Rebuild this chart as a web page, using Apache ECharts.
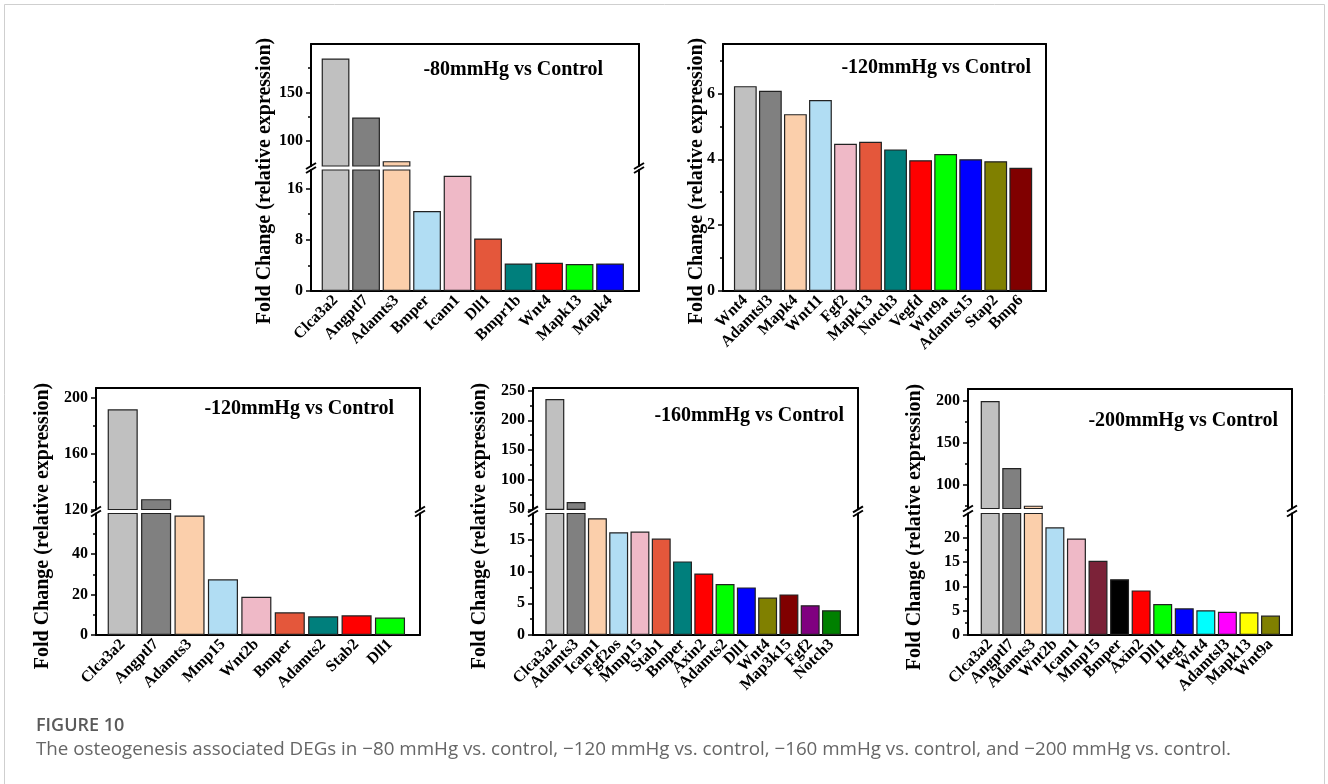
<!DOCTYPE html>
<html><head><meta charset="utf-8">
<script src="https://cdn.jsdelivr.net/npm/echarts@6/dist/echarts.min.js"></script>
<style>html,body{margin:0;padding:0;background:#fff}#c{width:1328px;height:784px}</style>
</head><body><div id="c"></div>
<script>
// ---------- DATA ----------
// -80mmHg vs Control (top left)
const genes80 = ['Clca3a2','Angptl7','Adamts3','Bmper','Icam1','Dll1','Bmpr1b','Wnt4','Mapk13','Mapk4'];
const fold80 = [185, 124, 79, 12.5, 18.0, 8.2, 4.3, 4.4, 4.2, 4.3];
const ticks80Upper = [100, 150];
const minor80Upper = [125, 175];
const ticks80Lower = [0, 8, 16];
const minor80Lower = [4, 12];

// -120mmHg vs Control (top right)
const genes120a = ['Wnt4','Adamtsl3','Mapk4','Wnt11','Fgf2','Mapk13','Notch3','Vegfd','Wnt9a','Adamts15','Stap2','Bmp6'];
const fold120a = [6.22, 6.08, 5.37, 5.80, 4.47, 4.53, 4.30, 3.97, 4.16, 4.00, 3.94, 3.74];
const ticks120a = [0, 2, 4, 6];
const minor120a = [1, 3, 5, 7];

// -120mmHg vs Control (bottom left)
const genes120b = ['Clca3a2','Angptl7','Adamts3','Mmp15','Wnt2b','Bmper','Adamts2','Stab2','Dll1'];
const fold120b = [191.7, 127.4, 59, 27.5, 18.9, 11.2, 9.2, 9.7, 8.6];
const ticks120bUpper = [120, 160, 200];
const minor120bUpper = [140, 180];
const ticks120bLower = [0, 20, 40];
const minor120bLower = [10, 30, 50];

// -160mmHg vs Control (bottom middle)
const genes160 = ['Clca3a2','Adamts3','Icam1','Fgf2os','Mmp15','Stab1','Bmper','Axin2','Adamts2','Dll1','Wnt4','Map3k15','Fgf2','Notch3'];
const fold160 = [236, 62.3, 18.4, 16.2, 16.3, 15.2, 11.6, 9.7, 8.05, 7.5, 5.9, 6.4, 4.7, 3.9];
const ticks160Upper = [50, 100, 150, 200, 250];
const minor160Upper = [75, 125, 175, 225];
const ticks160Lower = [0, 5, 10, 15];
const minor160Lower = [2.5, 7.5, 12.5, 17.5];

// -200mmHg vs Control (bottom right)
const genes200 = ['Clca3a2','Angptl7','Adamts3','Wnt2b','Icam1','Mmp15','Bmper','Axin2','Dll1','Heg1','Wnt4','Adamtsl3','Mapk13','Wnt9a'];
const fold200 = [200, 120.3, 75.4, 22.2, 19.9, 15.3, 11.5, 9.2, 6.4, 5.5, 5.1, 4.8, 4.7, 4.0];
const ticks200Upper = [100, 150, 200];
const minor200Upper = [75, 125, 175];
const ticks200Lower = [0, 5, 10, 15, 20];
const minor200Lower = [2.5, 7.5, 12.5, 17.5, 22.5];

const titles = ['-80mmHg vs Control', '-120mmHg vs Control', '-120mmHg vs Control', '-160mmHg vs Control', '-200mmHg vs Control'];
const yName = 'Fold Change (relative expression)';
const figLabel = 'FIGURE 10';
const captionText = 'The osteogenesis associated DEGs in \u221280 mmHg vs. control, \u2212120 mmHg vs. control, \u2212160 mmHg vs. control, and \u2212200 mmHg vs. control.';

// ---------- STYLES ----------
const COL = {lgray:'#c0c0c0', dgray:'#808080', peach:'#fbcfab', lblue:'#b1ddf3', pink:'#efb9c7', orange:'#e4573b',
  teal:'#007f7c', red:'#ff0000', green:'#00ff00', blue:'#0000ff', olive:'#808000', maroon:'#800000',
  purple:'#800080', dgreen:'#008000', burgundy:'#7b2238', black:'#000000', cyan:'#00ffff', magenta:'#ff00ff', yellow:'#ffff00'};
const colors80 = [COL.lgray, COL.dgray, COL.peach, COL.lblue, COL.pink, COL.orange, COL.teal, COL.red, COL.green, COL.blue];
const colors120a = [COL.lgray, COL.dgray, COL.peach, COL.lblue, COL.pink, COL.orange, COL.teal, COL.red, COL.green, COL.blue, COL.olive, COL.maroon];
const colors120b = [COL.lgray, COL.dgray, COL.peach, COL.lblue, COL.pink, COL.orange, COL.teal, COL.red, COL.green];
const colors160 = [COL.lgray, COL.dgray, COL.peach, COL.lblue, COL.pink, COL.orange, COL.teal, COL.red, COL.green, COL.blue, COL.olive, COL.maroon, COL.purple, COL.dgreen];
const colors200 = [COL.lgray, COL.dgray, COL.peach, COL.lblue, COL.pink, COL.burgundy, COL.black, COL.red, COL.green, COL.blue, COL.cyan, COL.magenta, COL.yellow, COL.olive];

const SERIF = '"Liberation Serif", "Times New Roman", serif';
const SANS = '"Open Sans", "Noto Sans", sans-serif';

// ---------- LAYOUT ----------
const panels = [
  {cats: genes80, vals: fold80, colors: colors80, title: titles[0],
   x0: 311, x1: 639, padL: 9.3, padR: 13.7, gap: '9%',
   titleX: 603, titleY: 70, labelX: 265, labelY: 181,
   segs: [
     {top: 44, bottom: 166, min: 74, max: 200, ticks: ticks80Upper, minor: minor80Upper, topLine: true},
     {top: 170, bottom: 291, min: 0, max: 18.9, ticks: ticks80Lower, minor: minor80Lower, bottomLine: true, cats: true}
   ]},
  {cats: genes120a, vals: fold120a, colors: colors120a, title: titles[1],
   x0: 723, x1: 1046, padL: 9.8, padR: 12.7, gap: '9%',
   titleX: 1031, titleY: 68, labelX: 697, labelY: 181,
   segs: [
     {top: 44, bottom: 291, min: 0, max: 7.5, ticks: ticks120a, minor: minor120a, topLine: true, bottomLine: true, cats: true}
   ]},
  {cats: genes120b, vals: fold120b, colors: colors120b, title: titles[2],
   x0: 96, x1: 420, padL: 10, padR: 13.3, gap: '10%',
   titleX: 394, titleY: 409, labelX: 43, labelY: 526,
   segs: [
     {top: 388, bottom: 509.5, min: 120, max: 207, ticks: ticks120bUpper, minor: minor120bUpper, topLine: true},
     {top: 513.5, bottom: 635, min: 0, max: 60, ticks: ticks120bLower, minor: minor120bLower, bottomLine: true, cats: true}
   ]},
  {cats: genes160, vals: fold160, colors: colors160, title: titles[3],
   x0: 533, x1: 858, padL: 11.2, padR: 15.9, gap: '11%',
   titleX: 844, titleY: 416, labelX: 480, labelY: 526,
   segs: [
     {top: 388, bottom: 509.3, min: 50, max: 254.5, ticks: ticks160Upper, minor: minor160Upper, topLine: true},
     {top: 513.5, bottom: 635, min: 0, max: 19.15, ticks: ticks160Lower, minor: minor160Lower, bottomLine: true, cats: true}
   ]},
  {cats: genes200, vals: fold200, colors: colors200, title: titles[4],
   x0: 968, x1: 1292, padL: 11.4, padR: 10.7, gap: '12%',
   titleX: 1278, titleY: 421, labelX: 915, labelY: 527,
   segs: [
     {top: 389, bottom: 508.5, min: 72, max: 214.3, ticks: ticks200Upper, minor: minor200Upper, topLine: true},
     {top: 513.5, bottom: 635, min: 0, max: 25.05, ticks: ticks200Lower, minor: minor200Lower, bottomLine: true, cats: true}
   ]}
];

// ---------- BUILD ----------
const option = {animation: false, backgroundColor: '#fff', grid: [], xAxis: [], yAxis: [], series: [], graphic: []};
const LINE = {color: '#000', width: 2};

function lineXAxis(g, pos) {
  return {gridIndex: g, type: 'value', position: pos, min: 0, max: 1,
    axisLine: {show: true, onZero: false, lineStyle: LINE},
    axisTick: {show: false}, axisLabel: {show: false}, splitLine: {show: false}};
}

panels.forEach(p => {
  p.segs.forEach(seg => {
    const h = seg.bottom - seg.top;
    const gF = option.grid.length;
    option.grid.push({left: p.x0, top: seg.top, width: p.x1 - p.x0, height: h});
    const gD = option.grid.length;
    option.grid.push({left: p.x0 + p.padL, top: seg.top, width: p.x1 - p.x0 - p.padL - p.padR, height: h});
    if (seg.topLine) option.xAxis.push(lineXAxis(gF, 'top'));
    if (seg.bottomLine) option.xAxis.push(lineXAxis(gF, 'bottom'));
    // left axis with labels and major ticks
    option.yAxis.push({gridIndex: gF, type: 'value', position: 'left', min: seg.min, max: seg.max,
      axisLine: {show: true, onZero: false, lineStyle: LINE},
      axisTick: {show: true, inside: false, length: 5, customValues: seg.ticks, lineStyle: {color: '#000', width: 1.5}},
      axisLabel: {show: true, customValues: seg.ticks, margin: 8, fontFamily: SERIF, fontWeight: 'bold', fontSize: 16, color: '#000'},
      splitLine: {show: false}});
    // minor ticks
    option.yAxis.push({gridIndex: gF, type: 'value', position: 'left', min: seg.min, max: seg.max,
      axisLine: {show: false, onZero: false},
      axisTick: {show: true, inside: false, length: 3, customValues: seg.minor, lineStyle: {color: '#000', width: 1.5}},
      axisLabel: {show: false}, splitLine: {show: false}});
    // right border
    option.yAxis.push({gridIndex: gF, type: 'value', position: 'right', min: seg.min, max: seg.max,
      axisLine: {show: true, onZero: false, lineStyle: LINE},
      axisTick: {show: false}, axisLabel: {show: false}, splitLine: {show: false}});
    // data axes
    const xi = option.xAxis.length;
    option.xAxis.push({gridIndex: gD, type: 'category', data: p.cats, position: 'bottom', boundaryGap: true,
      axisLine: {show: false, onZero: false}, axisTick: {show: false},
      axisLabel: {show: !!seg.cats, interval: 0, rotate: 45, margin: 7, fontFamily: SERIF, fontWeight: 'bold', fontSize: 16, color: '#000'},
      splitLine: {show: false}});
    const yi = option.yAxis.length;
    option.yAxis.push({gridIndex: gD, type: 'value', min: seg.min, max: seg.max, show: false, splitLine: {show: false}});
    option.series.push({type: 'bar', xAxisIndex: xi, yAxisIndex: yi, data: p.vals, clip: true, silent: true,
      barCategoryGap: p.gap,
      itemStyle: {color: params => p.colors[params.dataIndex], borderColor: '#222', borderWidth: 1.2}});
  });
  // break marks
  if (p.segs.length === 2) {
    const yU = p.segs[0].bottom, yL = p.segs[1].top;
    [p.x0, p.x1].forEach(x => {
      [yU, yL].forEach(y => {
        option.graphic.push({type: 'line', z: 100, shape: {x1: x - 5, y1: y + 3, x2: x + 5, y2: y - 3},
          style: {stroke: '#000', lineWidth: 2}});
      });
    });
  }
  option.graphic.push({type: 'text', x: p.titleX, y: p.titleY, z: 100,
    style: {text: p.title, font: 'bold 20px ' + SERIF, fill: '#000', textAlign: 'right', textVerticalAlign: 'middle'}});
  option.graphic.push({type: 'text', x: p.labelX, y: p.labelY, rotation: Math.PI / 2, z: 100,
    style: {text: yName, font: 'bold 20px ' + SERIF, fill: '#000', textAlign: 'center', textVerticalAlign: 'middle'}});
});

// outer frame of the figure
option.graphic.push({type: 'polyline', z: 100, shape: {points: [[4.5, 784], [4.5, 4.5], [1324.5, 4.5], [1324.5, 784]]},
  style: {stroke: '#cfcfcf', lineWidth: 1, fill: null}});

// caption
function measure(text, font) {
  const ctx = document.createElement('canvas').getContext('2d');
  ctx.font = font; return ctx.measureText(text).width;
}
const capSize = Math.min(19, 100 * 1195 / measure(captionText, '100px ' + SANS));
option.graphic.push({type: 'text', x: 36, y: 726, z: 100,
  style: {text: figLabel, font: '600 18px ' + SANS, fill: '#5a5a5a', textAlign: 'left', textVerticalAlign: 'middle'}});
option.graphic.push({type: 'text', x: 36, y: 750, z: 100,
  style: {text: captionText, font: capSize.toFixed(2) + 'px ' + SANS, fill: '#666', textAlign: 'left', textVerticalAlign: 'middle'}});

const chart = echarts.init(document.getElementById('c'), null, {renderer: 'canvas'});
chart.setOption(option);
</script>
</body></html>
